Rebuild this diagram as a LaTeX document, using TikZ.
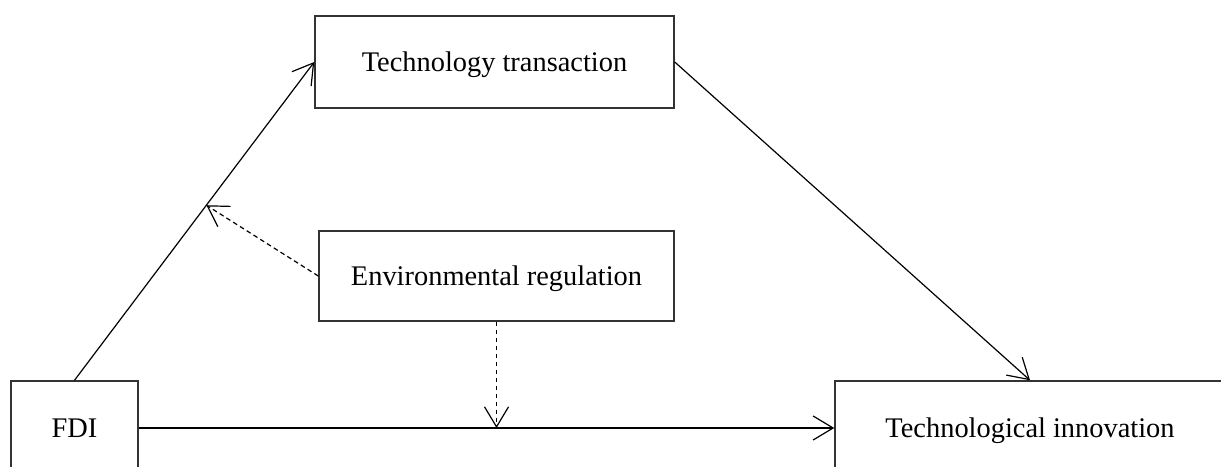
\documentclass[tikz,border=0pt]{standalone}
\usepackage{fontspec}
\setmainfont{Liberation Serif}
\usetikzlibrary{arrows.meta,calc}

\begin{document}
\begin{tikzpicture}[x=0.75pt,y=-0.75pt,
    box/.style={draw=black!80, line width=1.1pt, inner sep=0pt, text depth=0pt,
      font=\fontsize{21.3}{25}\selectfont},
    link/.style={line width=0.9pt, -{Straight Barb[length=15pt,width=18pt,line width=0.9pt]}},
    weak/.style={link, dash pattern=on 3.5pt off 2.5pt}]
  \useasboundingbox (0,0) rectangle (1221,467);
  \clip (0,0) rectangle (1221,467);
  % boxes
  \node[box, minimum width=95.25pt, minimum height=70.5pt] (fdi) at (74.5,428) {FDI};
  \node[box, minimum width=269.25pt, minimum height=69pt] (trans) at (494.5,62) {Technology transaction};
  \node[box, minimum width=266.25pt, minimum height=67.5pt] (envreg) at (496.5,276) {Environmental regulation};
  \node[box, minimum width=292.5pt, minimum height=70.5pt] (innov) at (1030,428) {Technological innovation};
  % paths
  \draw[link] (fdi.north) -- (trans.west);
  \draw[link] (trans.east) -- (innov.north);
  \draw[link] (fdi.east) -- (innov.west);
  \coordinate (m1) at ($(fdi.north)!0.55!(trans.west)$);
  \coordinate (m2) at (envreg.south |- fdi.east);
  \draw[weak] (envreg.west) -- (m1);
  \draw[weak] (envreg.south) -- (m2);
\end{tikzpicture}
\end{document}
